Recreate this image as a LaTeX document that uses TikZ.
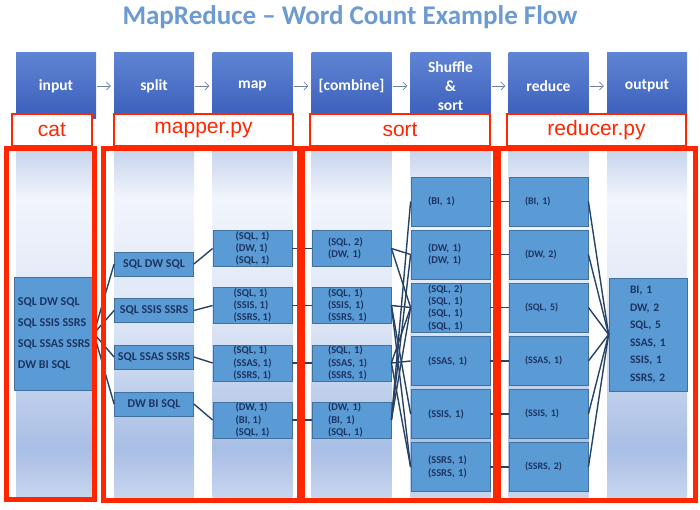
\documentclass[tikz,border=0pt]{standalone}
\usepackage{fontspec}
\setmainfont{Carlito}
\newfontfamily\labelfont{Liberation Sans}
\usetikzlibrary{arrows.meta}
\definecolor{titleblue}{RGB}{108,154,210}
\definecolor{hdtop}{RGB}{95,132,212}
\definecolor{hdbot}{RGB}{58,94,186}
\definecolor{hdarrow}{RGB}{110,130,165}
\definecolor{mrred}{RGB}{255,38,0}
\definecolor{boxfill}{RGB}{91,155,213}
\definecolor{boxline}{RGB}{65,113,156}
\definecolor{boxtext}{RGB}{28,52,98}
\definecolor{connblue}{RGB}{38,66,102}
\definecolor{pantop}{RGB}{198,212,236}
\definecolor{panwhite}{RGB}{242,245,252}
\definecolor{panmid}{RGB}{220,229,245}
\definecolor{pandark}{RGB}{168,190,229}
\definecolor{panbot}{RGB}{200,213,238}
\pgfdeclareverticalshading{panelshade}{100bp}{color(0bp)=(panbot); color(25bp)=(panbot);
  color(32bp)=(pandark); color(50bp)=(panmid); color(68bp)=(panwhite);
  color(75bp)=(pantop); color(100bp)=(pantop)}

\begin{document}
\begin{tikzpicture}[x=1pt, y=-1pt,
  hdbox/.style={minimum width=80, minimum height=66, inner sep=0, top color=hdtop,
    bottom color=hdbot, text=white, align=center,
    font=\bfseries\fontsize{15.5}{19}\selectfont},
  hdarrow/.style={draw=hdarrow, line width=0.7pt, -{Straight Barb[length=4pt,width=8pt]},
    shorten <=1pt, shorten >=3pt},
  redlbl/.style={draw=mrred, line width=2pt, fill=white, text=mrred, minimum height=32,
    inner sep=0, font=\labelfont\fontsize{21}{24}\selectfont},
  redframe/.style={draw=mrred, line width=5pt},
  dbox/.style={draw=boxline, fill=boxfill, line width=0.8pt, text=boxtext, align=left},
  bigtext/.style={font=\bfseries\fontsize{12}{21}\selectfont},
  smalltext/.style={font=\bfseries\fontsize{10.5}{12.3}\selectfont},
  conn/.style={draw=connblue, line width=1.4pt}]
\useasboundingbox (0,0) rectangle (700,510);

%% Title
\node[font=\bfseries\fontsize{27}{30}\selectfont, text=titleblue] (title) at (350,17)
  {MapReduce \textendash{} Word Count Example Flow};

%% Column panels and headers
\foreach \cx/\name/\lbl in {56/input/input, 154/split/split, 252.5/map/map,
    351.5/combine/{[combine]}, 450.5/shuffle/{Shuffle\\\&\\sort}, 548.5/reduce/reduce,
    647/output/output}{
  \shade[shading=panelshade] ({\cx-40},150) rectangle ({\cx+40},497);
  \node[hdbox] (h-\name) at (\cx,86) {\lbl};
}
\foreach \a/\b in {input/split, split/map, map/combine, combine/shuffle, shuffle/reduce,
    reduce/output}
  \draw[hdarrow] (h-\a.east) -- (h-\b.west);

%% Script labels
\foreach \cx/\w/\name/\lbl in {52/80/cat/cat, 203.5/179/mapper/mapper.py,
    400/180/sort/sort, 596.5/179/reducer/reducer.py}
  \node[redlbl, minimum width=\w] (l-\name) at (\cx,130) {\lbl};

%% Input
\node[dbox, bigtext, minimum width=76, minimum height=113] (inp) at (54,333.5)
  {SQL DW SQL\\SQL SSIS SSRS\\SQL SSAS SSRS\\DW BI SQL};
%% Split
\foreach \i/\y/\txt in {1/264/SQL DW SQL, 2/310.5/SQL SSIS SSRS, 3/357/SQL SSAS SSRS,
    4/404/DW BI SQL}
  \node[dbox, bigtext, minimum width=79, minimum height=24, inner sep=0] (sp\i) at (154,\y) {\txt};
%% Map and combine
\foreach \i/\y/\mtxt/\ctxt in {
    1/248.5/{(SQL, 1)\\(DW, 1)\\(SQL, 1)}/{(SQL, 2)\\(DW, 1)},
    2/305.5/{(SQL, 1)\\(SSIS, 1)\\(SSRS, 1)}/{(SQL, 1)\\(SSIS, 1)\\(SSRS, 1)},
    3/363/{(SQL, 1)\\(SSAS, 1)\\(SSRS, 1)}/{(SQL, 1)\\(SSAS, 1)\\(SSRS, 1)},
    4/420/{(DW, 1)\\(BI, 1)\\(SQL, 1)}/{(DW, 1)\\(BI, 1)\\(SQL, 1)}}{
  \node[dbox, smalltext, minimum width=79, minimum height=36, inner ysep=0] (mp\i) at (252.5,\y) {\mtxt};
  \node[dbox, smalltext, text width=47, inner xsep=16, minimum height=36, inner ysep=0] (cb\i) at (351.5,\y) {\ctxt};
}
%% Shuffle & sort and reduce
\foreach \i/\y/\stxt/\rtxt in {
    1/201.5/{(BI, 1)}/{(BI, 1)},
    2/254.5/{(DW, 1)\\(DW, 1)}/{(DW, 2)},
    3/307.5/{(SQL, 2)\\(SQL, 1)\\(SQL, 1)\\(SQL, 1)}/{(SQL, 5)},
    4/361/{(SSAS, 1)}/{(SSAS, 1)},
    5/414/{(SSIS, 1)}/{(SSIS, 1)},
    6/467/{(SSRS, 1)\\(SSRS, 1)}/{(SSRS, 2)}}{
  \node[dbox, smalltext, text width=45, inner xsep=17, minimum height=49, inner ysep=0] (sh\i) at (450.5,\y) {\stxt};
  \node[dbox, font=\bfseries\fontsize{10}{12.3}\selectfont, text width=47, inner xsep=16, minimum height=49, inner ysep=0] (rd\i) at (548.5,\y) {\rtxt};
}
%% Output
\node[dbox, font=\bfseries\fontsize{11.5}{17.6}\selectfont, text width=36, inner xsep=21,
  minimum height=113] (outp) at (648,334.5)
  {BI, 1\\DW, 2\\SQL, 5\\SSAS, 1\\SSIS, 1\\SSRS, 2};

%% Connectors
\foreach \i in {1,...,4}{
  \draw[conn] (inp.east) -- (sp\i.west);
  \draw[conn] (sp\i.east) -- (mp\i.west);
  \draw[conn] (mp\i.east) -- (cb\i.west);
}
\foreach \a/\b in {1/2, 1/3, 2/3, 2/5, 2/6, 3/3, 3/4, 3/6, 4/1, 4/2, 4/3}
  \draw[conn] (cb\a.east) -- (sh\b.west);
\foreach \i in {1,...,6}{
  \draw[conn] (sh\i.east) -- (rd\i.west);
  \draw[conn] (rd\i.east) -- (outp.west);
}

%% Red frames
\foreach \xa/\xb/\yb in {6/94/499.5, 103.5/299.5/500.5, 302.5/495.5/500.5, 498.5/695/500.5}
  \draw[redframe] (\xa,148.5) rectangle (\xb,\yb);
\end{tikzpicture}
\end{document}
